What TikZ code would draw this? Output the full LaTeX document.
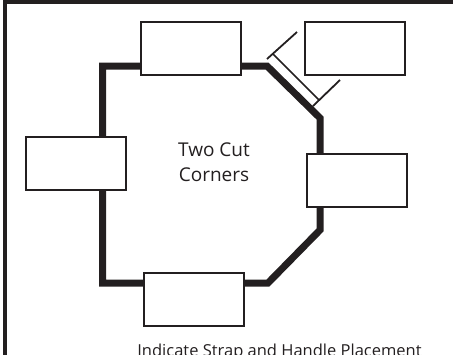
\documentclass[tikz,border=0pt]{standalone}
\usepackage{fontspec}
\setmainfont{Open Sans}
\definecolor{ink}{RGB}{35,31,32}
\begin{document}
\begin{tikzpicture}[x=1pt,y=-1pt,
  box/.style={rectangle,draw=ink,line width=2pt,fill=white,minimum width=100pt,minimum height=53pt,inner sep=0pt},
  rim/.style={line width=7pt,ink},
  tick/.style={line width=1.8pt,ink}]
\useasboundingbox (0,0) rectangle (453,354);
\clip (0,0) rectangle (453,354);
\draw[line width=4pt,ink] (4.5,1.5) rectangle (470,380);
% strap outline with the two cut corners
\coordinate (tl) at (102.5,66);
\coordinate (cutA) at (267,66);
\coordinate (cutB) at (320,118);
\coordinate (cutC) at (320,230);
\coordinate (cutD) at (268,283);
\coordinate (bl) at (102.5,283);
\draw[rim] (tl) -- (cutA) -- (cutB) -- (cutC) -- (cutD) -- (bl) -- cycle;
% handle mark
\coordinate (hA) at (267,59);
\coordinate (hAout) at (297,32);
\coordinate (hB) at (313,106);
\coordinate (hBout) at (340,80);
\coordinate (hA2) at (273,54);
\coordinate (hB2) at (319,100);
\draw[tick] (hA) -- (hAout);
\draw[tick] (hB) -- (hBout);
\draw[line width=1.5pt,ink] (hA2) -- (hB2);
% boxes
\node[box] (top) at (191,48.5) {};
\node[box] (corner) at (354.5,48.5) {};
\node[box] (left) at (76,163.5) {};
\node[box] (right) at (357,180.5) {};
\node[box] (bottom) at (194,299.5) {};
\node[font=\fontsize{19}{25}\selectfont,align=center,inner sep=0pt,text=ink] (title) at (214,162.5) {Two Cut\\Corners};
\node[font=\fontsize{16.5}{20}\selectfont,anchor=base,inner sep=0pt,text=ink] (caption) at (279.5,356.5) {Indicate Strap and Handle Placement};
\end{tikzpicture}
\end{document}
